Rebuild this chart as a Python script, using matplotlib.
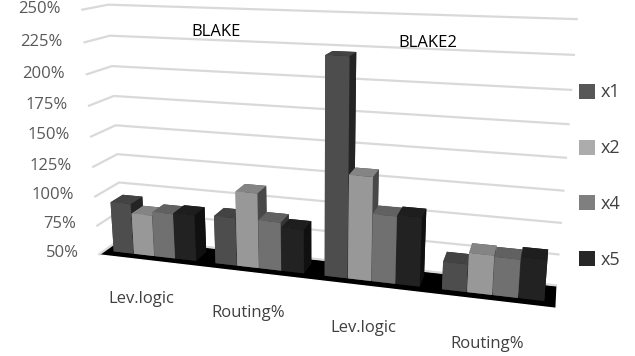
import matplotlib
matplotlib.use("Agg")
import matplotlib.pyplot as plt
from matplotlib.patches import Patch
import numpy as np

plt.rcParams['font.family'] = ['Open Sans', 'DejaVu Sans']

# ---- data ----
groups = ["BLAKE", "BLAKE2"]
categories = ["Lev.logic", "Routing%", "Lev.logic", "Routing%"]
series = ["x1", "x2", "x4", "x5"]
x1 = [93, 90, 222, 72]
x2 = [85, 112, 133, 81]
x4 = [88, 90, 104, 80]
x5 = [89, 86, 105, 82]
values = [x1, x2, x4, x5]
colors = ["#575757", "#acacac", "#7f7f7f", "#272727"]
zticks = [50, 75, 100, 125, 150, 175, 200, 225, 250]
zticklabels = ["50%", "75%", "100%", "125%", "150%", "175%", "200%", "225%", "250%"]

# ---- figure ----
fig = plt.figure(figsize=(6.35, 3.56), dpi=100)
ax = fig.add_axes([-0.092, -0.183, 1.1625, 1.5], projection='3d',
                  proj_type='persp', focal_length=0.3)
ax.computed_zorder = False
ax.view_init(elev=15, azim=-74)
ax.set_box_aspect((4, 0.45, 2.2), zoom=1.0)

n = len(categories)
bw = 0.2
step = 0.205
order = 0
for i in range(n):
    for j, vals in enumerate(values):
        order += 1
        ax.bar3d(i - 1.5 * step + j * step - bw / 2, 0.25, zticks[0],
                 bw, 0.5, vals[i] - zticks[0],
                 color=colors[j], shade=True, linewidth=0, zorder=order)

ax.set_xlim(-0.5, n - 0.5)
ax.set_ylim(0, 1)
ax.set_zlim(zticks[0], zticks[-1])
ax.set_xticks([])
ax.set_yticks([])
ax.set_zticks(zticks)
ax.set_zticklabels([])

for axis in (ax.xaxis, ax.yaxis, ax.zaxis):
    axis.line.set_color((1, 1, 1, 0))
    axis._axinfo['tick']['inward_factor'] = 0
    axis._axinfo['tick']['outward_factor'] = 0
    axis._axinfo['grid']['color'] = '#d9d9d9'
    axis._axinfo['grid']['linewidth'] = 1.6
ax.xaxis.set_pane_color((1, 1, 1, 1))
ax.yaxis.set_pane_color((1, 1, 1, 1))
ax.zaxis.set_pane_color((0, 0, 0, 1))
for axis in (ax.xaxis, ax.yaxis, ax.zaxis):
    axis.pane.set_edgecolor((1, 1, 1, 0))

# value-axis labels at the front edge of the side wall
for v, lab in zip(zticks, zticklabels):
    ax.text(-0.7, 0, v, lab, ha='right', va='center',
            fontsize=12, color='#595959', zorder=100)

# category labels under the floor
for i, lab in enumerate(categories):
    ax.text(i, -0.4, zticks[0] - 26, lab, ha='center', va='center',
            fontsize=12, color='#404040', zorder=100)

# group labels
fig.text(0.340, 0.910, groups[0], ha='center', va='center', fontsize=12, color='black')
fig.text(0.674, 0.878, groups[1], ha='center', va='center', fontsize=12, color='black')

handles = [Patch(facecolor=c, edgecolor='none') for c in colors]
fig.legend(handles, series, loc='center left', bbox_to_anchor=(0.886, 0.505),
           frameon=False, labelspacing=2.1, handlelength=0.9, handleheight=0.9,
           handletextpad=0.3, fontsize=13, labelcolor='#404040')

fig.savefig("out.png", dpi=100)
